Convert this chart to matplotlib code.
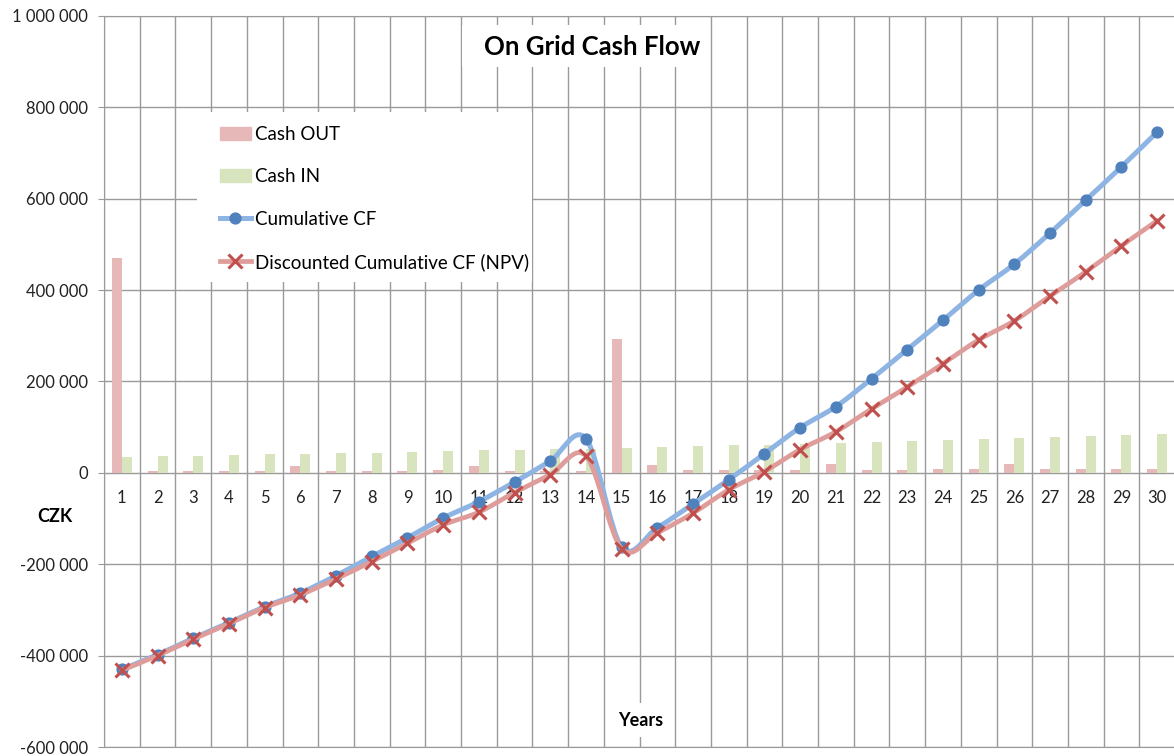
import matplotlib
matplotlib.use('Agg')
from matplotlib import pyplot as plt
from matplotlib.path import Path
from matplotlib.patches import PathPatch, Rectangle
from matplotlib.lines import Line2D
from matplotlib.ticker import FuncFormatter
import matplotlib.transforms as mtransforms

plt.rcParams['font.family'] = ['Lato', 'DejaVu Sans']

# values (CZK)
years = list(range(1, 31))
cash_out = [471000, 3500, 3500, 3500, 3500, 14500, 3600, 3600, 5000, 5500,
            16000, 5000, 5000, 5000, 293000, 17500, 5800, 5800, 6000, 6000,
            19000, 7300, 7300, 7500, 7500, 20400, 8700, 8700, 9000, 9000]
cash_in = [35000, 36500, 38000, 39000, 41000, 42000, 43000, 44500, 46000, 47000,
           49500, 51000, 52000, 53000, 55000, 57000, 58000, 60500, 62000, 64000,
           65500, 68000, 70000, 71000, 74000, 76500, 78000, 80000, 83000, 86000]
cumulative_cf = [-430000, -398000, -362000, -328000, -293000, -263000, -225000, -183000, -142000, -99000,
                 -63000, -20000, 26000, 75000, -162000, -120000, -68000, -15000, 42000, 99000,
                 145000, 206000, 270000, 334000, 400000, 457000, 525000, 597000, 670000, 746000]
discounted_cf = [-432000, -400000, -364000, -330000, -295000, -267000, -232000, -194000, -154000, -114000,
                 -86000, -43000, -4000, 37000, -166000, -131000, -88000, -37000, 3000, 51000,
                 90000, 140000, 188000, 239000, 291000, 333000, 387000, 440000, 497000, 552000]
series_names = ["Cash OUT", "Cash IN", "Cumulative CF", "Discounted Cumulative CF (NPV)"]

W, H = 1174, 756
GRID = '#9a9a9a'


def smooth_path(xs, ys):
    """Excel-like smoothed line as cubic bezier segments through the points"""
    pts = list(zip(xs, ys))
    n = len(pts)
    verts = [pts[0]]
    codes = [Path.MOVETO]
    for i in range(n - 1):
        p0 = pts[i - 1] if i > 0 else pts[i]
        p1 = pts[i]
        p2 = pts[i + 1]
        p3 = pts[i + 2] if i + 2 < n else pts[i + 1]
        c1 = (p1[0] + (p2[0] - p0[0]) / 6, p1[1] + (p2[1] - p0[1]) / 6)
        c2 = (p2[0] - (p3[0] - p1[0]) / 6, p2[1] - (p3[1] - p1[1]) / 6)
        verts += [c1, c2, p2]
        codes += [Path.CURVE4] * 3
    return Path(verts, codes)


def space_thousands(v, pos):
    return '{:,.0f}'.format(v).replace(',', ' ')


def white_box(ax, fig, x0, y0, x1, y1):
    # box in pixel coords of the figure (y from the top)
    r = Rectangle((x0 / W, 1 - y1 / H), (x1 - x0) / W, (y1 - y0) / H,
                  transform=fig.transFigure, facecolor='white', edgecolor='none', zorder=3)
    ax.add_patch(r)


def main():
    fig = plt.figure(figsize=(W / 100, H / 100), dpi=100)
    ax = fig.add_axes([104 / W, 9 / H, 1071 / W, 731 / H])

    # bars
    ax.bar([x - 0.14 for x in years], cash_out, 0.28, color='#E6B9B8', zorder=2)
    ax.bar([x + 0.14 for x in years], cash_in, 0.28, color='#D7E4BD', zorder=2)

    # smoothed lines + markers
    ax.add_patch(PathPatch(smooth_path(years, cumulative_cf), facecolor='none',
                           edgecolor='#8EB4E3', lw=3.6, capstyle='round', joinstyle='round', zorder=4))
    ax.plot(years, cumulative_cf, 'o', color='#4F81BD', ms=7.8, zorder=5)
    ax.add_patch(PathPatch(smooth_path(years, discounted_cf), facecolor='none',
                           edgecolor='#DE9C9A', lw=3.4, capstyle='round', joinstyle='round', zorder=6))
    ax.plot(years, discounted_cf, 'x', color='#C0504D', ms=10, mew=2.2, zorder=7)

    # category labels sit just under the zero line
    trans = ax.transData + mtransforms.ScaledTranslation(0, -0.25, fig.dpi_scale_trans)
    for x in years:
        ax.text(x, 0, str(x), transform=trans, ha='center', va='center',
                fontsize=12, color='#222222', zorder=2.5)

    # white boxes for title, legend and axis title
    white_box(ax, fig, 462, 25, 710, 67)
    white_box(ax, fig, 197, 112, 532, 282)
    white_box(ax, fig, 610, 703, 672, 737)

    ax.text(592 / W, 1 - 47 / H, "On Grid Cash Flow", transform=fig.transFigure,
            ha='center', va='center', fontsize=18.5, fontweight='bold', zorder=9)
    ax.text(641 / W, 1 - 720 / H, "Years", transform=fig.transFigure,
            ha='center', va='center', fontsize=13, fontweight='bold', zorder=9)
    fig.text(55 / W, 1 - 517 / H, "CZK", ha='center', va='center', fontsize=13, fontweight='bold')

    handles = [Rectangle((0, 0), 1, 1, color='#E6B9B8'),
               Rectangle((0, 0), 1, 1, color='#D7E4BD'),
               Line2D([], [], color='#8EB4E3', lw=3.6, marker='o', mfc='#4F81BD', mec='#4F81BD', ms=7.8),
               Line2D([], [], color='#DE9C9A', lw=3.4, marker='x', mec='#C0504D', ms=10, mew=2.2)]
    leg = ax.legend(handles, series_names, loc='upper left',
                    bbox_to_anchor=(220 / W, 1 - 126 / H), bbox_transform=fig.transFigure,
                    frameon=False, fontsize=13.5, handlelength=1.65, handletextpad=0.2,
                    labelspacing=1.35, borderpad=0, borderaxespad=0, numpoints=1)
    leg.set_zorder(9)

    # grid and axes
    ax.set_xticks([x + 0.5 for x in range(0, 31)])
    ax.tick_params(axis='x', length=0, labelbottom=False)
    ax.set_yticks(range(-600000, 1000001, 200000))
    ax.yaxis.set_major_formatter(FuncFormatter(space_thousands))
    ax.tick_params(axis='y', length=4.5, color=GRID, labelsize=12, pad=7, labelcolor='#222222')
    ax.grid(True, color=GRID, lw=1)
    ax.set_axisbelow(True)
    for side in ['left', 'bottom', 'top']:
        ax.spines[side].set_color(GRID)
    ax.spines['right'].set_visible(False)
    ax.set_xlim(0.5, 30.5)
    ax.set_ylim(-600000, 1000000)

    fig.savefig('out.png', dpi=100)
    return


if __name__ == "__main__":
    main()
